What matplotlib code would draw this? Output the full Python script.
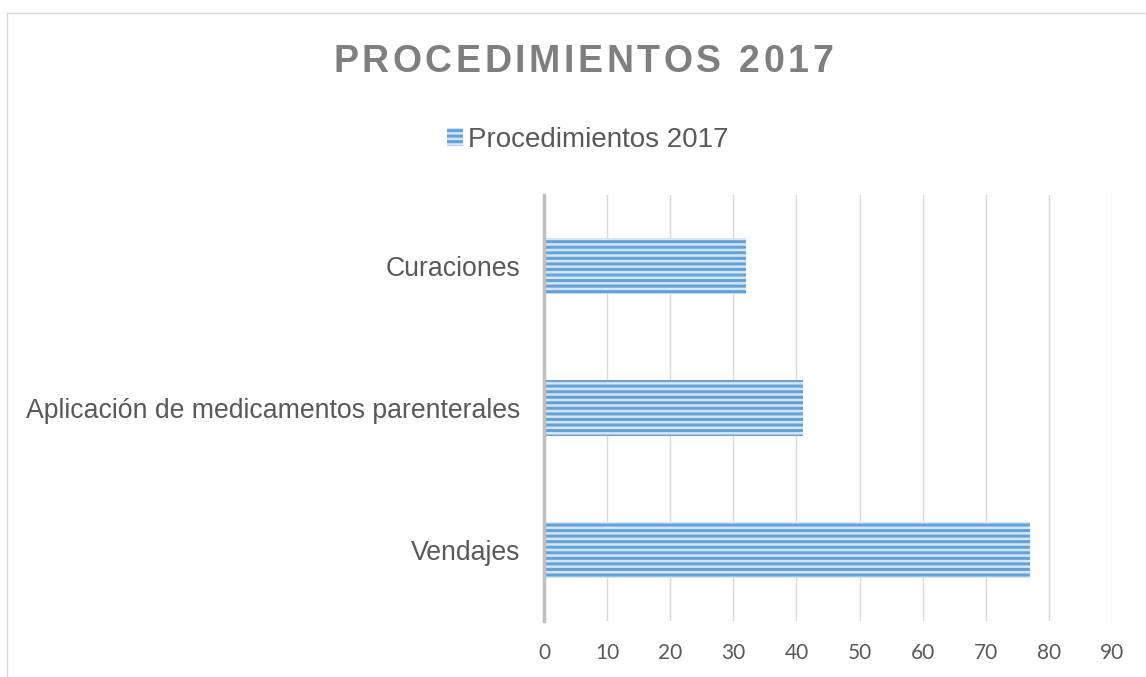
import matplotlib
matplotlib.use("Agg")
import matplotlib.pyplot as plt
from matplotlib.lines import Line2D
from matplotlib.patches import Patch
from matplotlib.font_manager import FontProperties

categories = ["Vendajes", "Aplicación de medicamentos parenterales", "Curaciones"]
values = [77, 41, 32]
xticks = [0, 10, 20, 30, 40, 50, 60, 70, 80, 90]
series_name = "Procedimientos 2017"
title = "PROCEDIMIENTOS 2017"

W, H = 1146, 677
DPI = 100
plt.rcParams['hatch.linewidth'] = 2.2
plt.rcParams['font.family'] = ['Liberation Sans', 'DejaVu Sans']

fig = plt.figure(figsize=(W / DPI, H / DPI), dpi=DPI)
fig.patch.set_facecolor('white')

ax = fig.add_axes([544 / W, 1 - 621 / H, (1112 - 544) / W, (621 - 195) / H])

ypos = list(range(len(categories)))
ax.barh(ypos, values, height=0.4, color='#d6e6f5', edgecolor='#64a2da',
        linewidth=0, hatch='---', zorder=3)

ax.set_xlim(0, 90)
ax.set_ylim(-0.5, len(categories) - 0.5)
ax.set_xticks(xticks)
ax.set_xticklabels([str(t) for t in xticks], family='Lato', fontsize=15, color='#595959')
ax.set_yticks(ypos)
ax.set_yticklabels(categories, fontsize=19.2, color='#595959')
ax.tick_params(axis='x', length=0, pad=16)
ax.tick_params(axis='y', length=0, pad=17)
ax.grid(axis='x', color='#d9d9d9', linewidth=1.0, zorder=0)
for s in ['top', 'right', 'bottom']:
    ax.spines[s].set_visible(False)
ax.spines['left'].set_color('#bfbfbf')
ax.spines['left'].set_linewidth(2.5)
ax.spines['left'].set_zorder(4)

# chart border
fig.add_artist(Line2D([7 / W, 1.0], [1 - 13 / H, 1 - 13 / H], color='#d9d9d9', linewidth=1.0, transform=fig.transFigure))
fig.add_artist(Line2D([7 / W, 7 / W], [1 - 13 / H, 0], color='#d9d9d9', linewidth=1.0, transform=fig.transFigure))

# legend
handle = Patch(facecolor='#d6e6f5', edgecolor='#64a2da', linewidth=0, hatch='---')
fig.legend([handle], [series_name], loc='center', bbox_to_anchor=(588 / W, 1 - 140 / H),
           frameon=False, fontsize=20, handlelength=0.55, handleheight=0.6,
           handletextpad=0.2, labelcolor='#595959')

# letter-spaced title
fig.canvas.draw()
renderer = fig.canvas.get_renderer()
fp = FontProperties(family='Liberation Sans', weight='bold', size=27)
widths = []
for ch in title:
    w, h, d = renderer.get_text_width_height_descent(ch if ch != ' ' else 'i', fp, ismath=False)
    widths.append(w)
target = 500.0
spacing = (target - sum(widths)) / (len(title) - 1)
x = 583 - target / 2
yc = 1 - 62 / H
for ch, w in zip(title, widths):
    if ch != ' ':
        fig.text(x / W, yc, ch, fontproperties=fp, color='#7f7f7f', ha='left', va='center')
    x += w + spacing

fig.savefig('out.png', dpi=DPI, facecolor='white')
